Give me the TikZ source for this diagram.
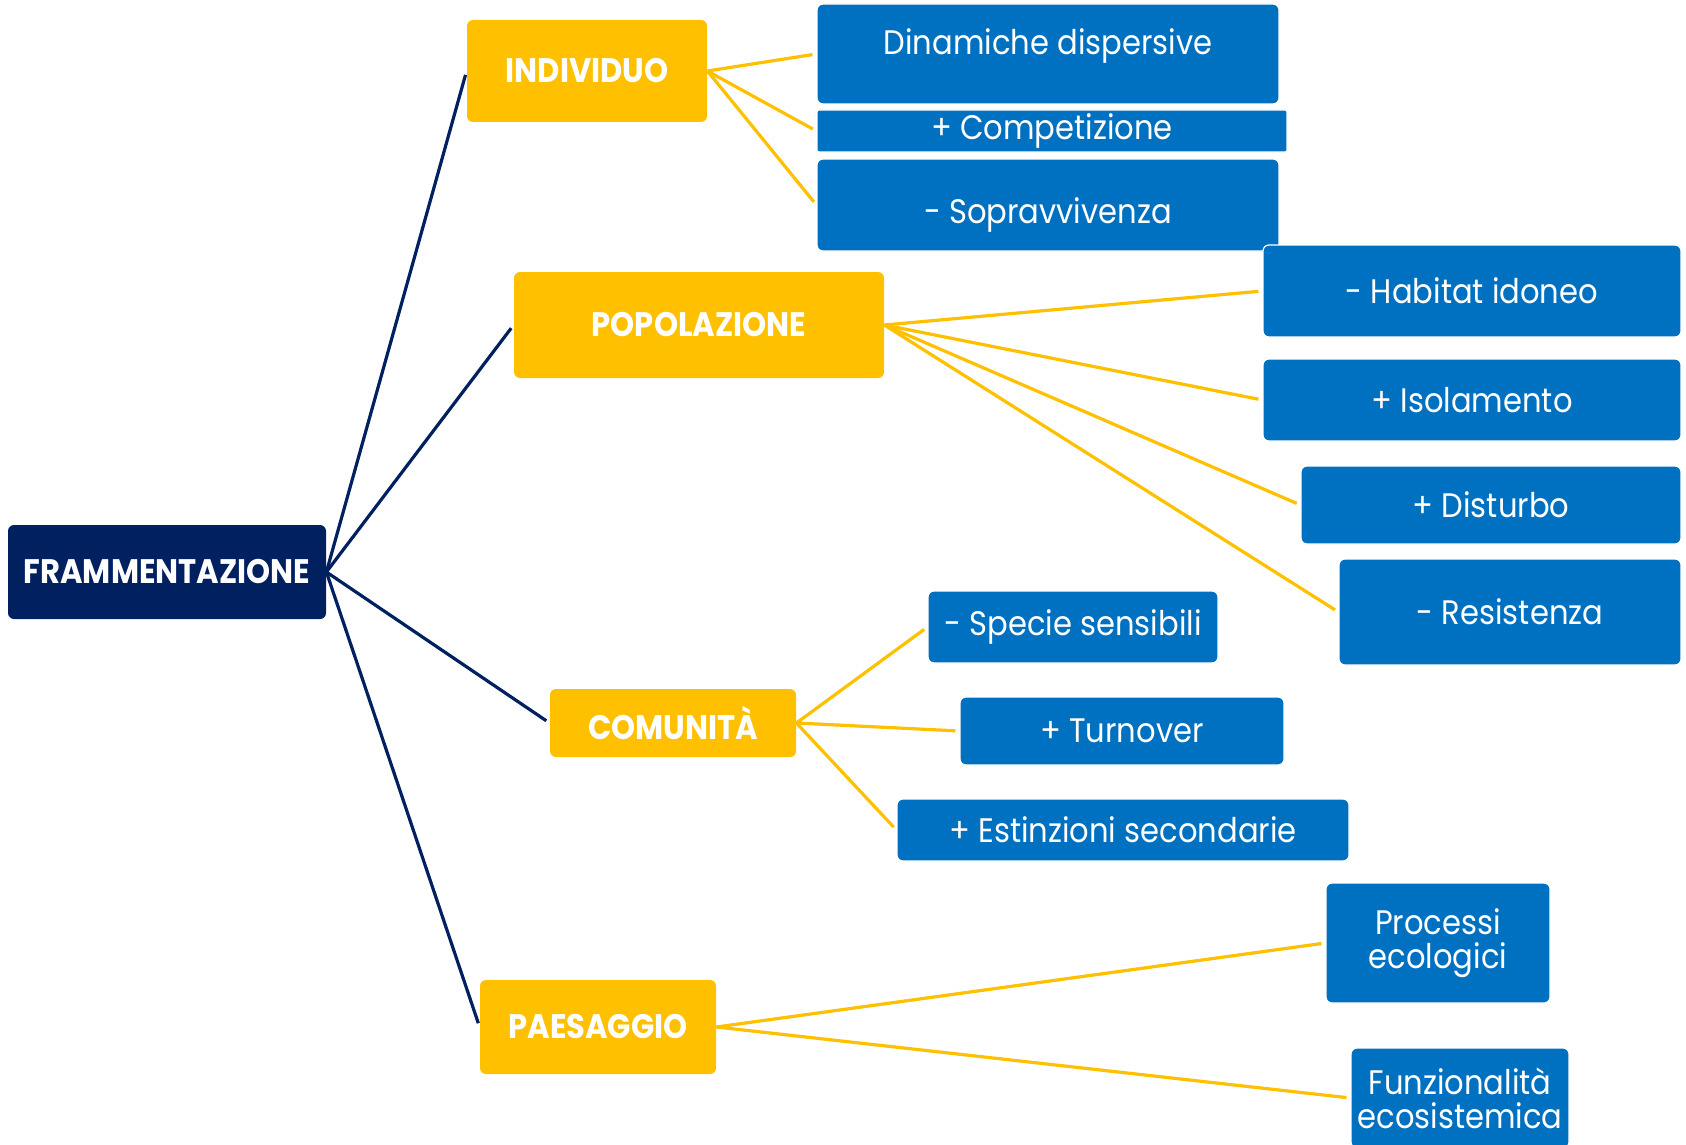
\documentclass[tikz,border=0pt]{standalone}
\usepackage{fontspec}
\setmainfont[FakeStretch=0.90]{Poppins}
\definecolor{navy}{HTML}{002060}
\definecolor{gold}{HTML}{FFC000}
\definecolor{azure}{HTML}{0070C0}

\begin{document}
\begin{tikzpicture}
[x=0.5pt,y=-0.5pt,
 navybox/.style={fill=navy,text=white,rounded corners=3pt,inner sep=0pt,font=\bfseries\fontsize{17}{17}\selectfont},
 goldbox/.style={fill=gold,text=white,rounded corners=3pt,inner sep=0pt,font=\bfseries\fontsize{17}{17}\selectfont},
 bluebox/.style={fill=azure,draw=white,line width=0.6pt,text=white,rounded corners=3pt,inner sep=0pt,align=center,font=\fontsize{17}{17}\selectfont},
 navyline/.style={navy,line width=1.6pt,shorten >=2pt},
 goldline/.style={gold,line width=1.6pt,shorten >=2pt}]

\clip (0,0) rectangle (1686,1145);

% Frammentazione
\node[navybox,minimum width=159pt,minimum height=47pt](fram) at (167,572){FRAMMENTAZIONE};

% Individuo
\node[goldbox,minimum width=120pt,minimum height=51pt](indiv) at (587,71){INDIVIDUO};
\node[bluebox,minimum width=231pt,minimum height=50pt,text height=12.5pt,text depth=11.5pt](dinam) at (1048,54){Dinamiche dispersive};
\node[bluebox,rounded corners=1pt,minimum width=235pt,minimum height=21pt](compet) at (1052,131){+ Competizione};
\node[bluebox,minimum width=231pt,minimum height=46pt,text height=22pt,text depth=3.5pt](soprav) at (1048,205){- Sopravvivenza};

% Popolazione
\node[goldbox,minimum width=185pt,minimum height=53pt](popol) at (699,325){POPOLAZIONE};
\node[bluebox,minimum width=209pt,minimum height=46pt](habit) at (1472,291){- Habitat idoneo};
\node[bluebox,minimum width=209pt,minimum height=41pt](isol) at (1472,400){+ Isolamento};
\node[bluebox,minimum width=190pt,minimum height=39pt](dist) at (1491,505){+ Disturbo};
\node[bluebox,minimum width=171pt,minimum height=53pt](resist) at (1510,612){- Resistenza};

% Comunita
\node[goldbox,minimum width=123pt,minimum height=34pt](comun) at (673,723){COMUNITÀ};
\node[bluebox,minimum width=145pt,minimum height=36pt](specie) at (1073,627){- Specie sensibili};
\node[bluebox,minimum width=162pt,minimum height=34pt](turn) at (1122,731){+ Turnover};
\node[bluebox,minimum width=226pt,minimum height=31pt](estinz) at (1123,830){+ Estinzioni secondarie};

% Paesaggio
\node[goldbox,minimum width=118pt,minimum height=47pt](paes) at (598,1027){PAESAGGIO};
\node[bluebox,minimum width=112pt,minimum height=60pt](proc) at (1438,943){Processi\\ecologici};
\node[bluebox,minimum width=109pt,minimum height=50pt](funz) at (1460,1098){Funzionalità\\ecosistemica};

% main branches
\draw[navyline] (fram.east) -- (indiv.west);
\draw[navyline] (fram.east) -- (popol.west);
\draw[navyline] (fram.east) -- (comun.west);
\draw[navyline] (fram.east) -- (paes.west);

% sub branches
\draw[goldline] (indiv.east) -- (dinam.west);
\draw[goldline] (indiv.east) -- (compet.west);
\draw[goldline] (indiv.east) -- (soprav.west);
\draw[goldline] (popol.east) -- (habit.west);
\draw[goldline] (popol.east) -- (isol.west);
\draw[goldline] (popol.east) -- (dist.west);
\draw[goldline] (popol.east) -- (resist.west);
\draw[goldline] (comun.east) -- (specie.west);
\draw[goldline] (comun.east) -- (turn.west);
\draw[goldline] (comun.east) -- (estinz.west);
\draw[goldline] (paes.east) -- (proc.west);
\draw[goldline] (paes.east) -- (funz.west);

\end{tikzpicture}
\end{document}
